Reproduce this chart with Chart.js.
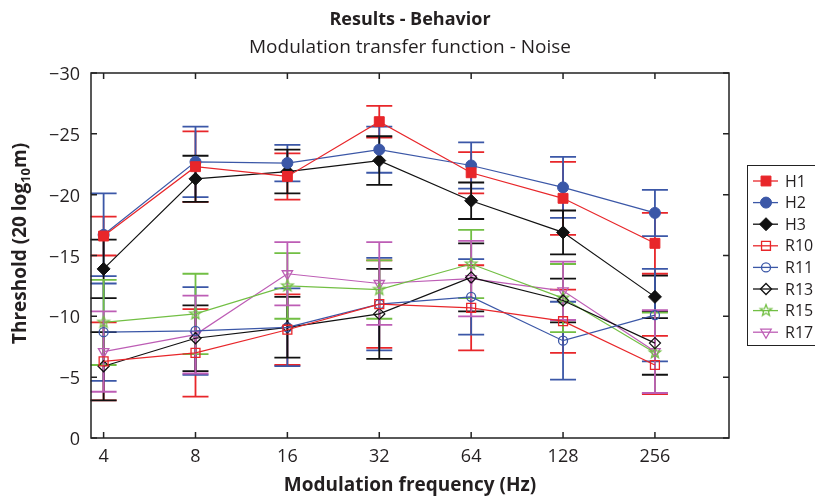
<!DOCTYPE html>
<html>
<head>
<meta charset="utf-8">
<script src="https://cdn.jsdelivr.net/npm/chart.js@4.4.0/dist/chart.umd.min.js"></script>
<style>
    html, body { margin: 0; padding: 0; background: #fff; }
    #wrap { width: 815px; height: 496px; position: relative; }
</style>
</head>
<body>
<div id="wrap"><canvas id="mtfChart"></canvas></div>
<script>
// Dados
const freqs = [4, 8, 16, 32, 64, 128, 256];
const yTicks = [-30, -25, -20, -15, -10, -5, 0];

const H1 = [-16.6, -22.3, -21.5, -26.0, -21.8, -19.7, -16.0];
const H1err = [1.6, 2.9, 1.9, 1.3, 1.7, 3.0, 2.5];
const H2 = [-16.7, -22.7, -22.6, -23.7, -22.4, -20.6, -18.5];
const H2err = [3.4, 2.9, 1.5, 1.9, 1.9, 2.5, 1.9];
const H3 = [-13.9, -21.3, -21.9, -22.8, -19.5, -16.9, -11.6];
const H3err = [2.4, 1.9, 1.8, 2.0, 1.5, 1.8, 1.75];
const R10 = [-6.3, -7.0, -8.9, -11.0, -10.7, -9.6, -6.0];
const R10err = [3.2, 3.6, 2.9, 3.6, 3.5, 2.6, 2.4];
const R11 = [-8.7, -8.8, -9.1, -11.0, -11.6, -8.0, -10.1];
const R11err = [4.0, 3.6, 3.2, 3.8, 3.1, 3.2, 3.8];
const R13 = [-5.9, -8.2, -9.1, -10.2, -13.2, -11.3, -7.8];
const R13err = [2.8, 2.7, 2.5, 3.7, 2.8, 1.8, 2.6];
const R15 = [-9.5, -10.2, -12.5, -12.2, -14.3, -11.5, -7.0];
const R15err = [3.5, 3.3, 2.7, 2.4, 2.8, 2.8, 3.3];
const R17 = [-7.1, -8.5, -13.5, -12.7, -13.1, -12.1, -7.1];
const R17err = [3.3, 3.2, 2.6, 3.4, 3.1, 2.4, 3.4];

const FONT = '"Open Sans", "Noto Sans", sans-serif';
const TEXT = '#231F20';
const RED = '#E8262A', BLUE = '#3B57A7', BLACK = '#111111', GREEN = '#72BF44', MAGENTA = '#BD5DB5';

// estrela de 5 pontas (contorno)
function makeStar(color, r) {
    const s = Math.ceil(r * 2 + 4);
    const c = document.createElement('canvas');
    c.width = s; c.height = s;
    const g = c.getContext('2d');
    g.strokeStyle = color;
    g.lineWidth = 1.3;
    g.beginPath();
    for (let i = 0; i < 10; i++) {
        const rad = i % 2 === 0 ? r : r * 0.42;
        const a = -Math.PI / 2 + i * Math.PI / 5;
        const px = s / 2 + rad * Math.cos(a), py = s / 2 + rad * Math.sin(a);
        if (i === 0) g.moveTo(px, py); else g.lineTo(px, py);
    }
    g.closePath();
    g.stroke();
    return c;
}

const series = [
    { label: 'H1', values: H1, errors: H1err, color: RED, style: 'rect', radius: 7, filled: true },
    { label: 'H2', values: H2, errors: H2err, color: BLUE, style: 'circle', radius: 5.5, filled: true },
    { label: 'H3', values: H3, errors: H3err, color: BLACK, style: 'rectRot', radius: 6.5, filled: true },
    { label: 'R10', values: R10, errors: R10err, color: RED, style: 'rect', radius: 6.3, filled: false },
    { label: 'R11', values: R11, errors: R11err, color: BLUE, style: 'circle', radius: 4.5, filled: false },
    { label: 'R13', values: R13, errors: R13err, color: BLACK, style: 'rectRot', radius: 5.5, filled: false },
    { label: 'R15', values: R15, errors: R15err, color: GREEN, style: makeStar(GREEN, 6), radius: 6, filled: false },
    { label: 'R17', values: R17, errors: R17err, color: MAGENTA, style: 'triangle', rotation: 180, radius: 6, filled: false }
];

const datasets = series.map(s => ({
    label: s.label,
    data: s.values.map((v, i) => ({ x: freqs[i], y: v })),
    errors: s.errors,
    borderColor: s.color,
    backgroundColor: s.filled ? s.color : 'transparent',
    borderWidth: 1.2,
    pointStyle: s.style,
    pointRotation: s.rotation || 0,
    pointRadius: s.radius,
    pointHoverRadius: s.radius,
    pointBorderWidth: s.filled ? 1 : 1.3,
    pointBackgroundColor: s.filled ? s.color : 'transparent',
    pointBorderColor: s.color,
    tension: 0
}));

// Barras de erro
const errorBars = {
    id: 'errorBars',
    beforeDatasetsDraw(chart) {
        const { ctx, scales: { x, y } } = chart;
        ctx.save();
        chart.data.datasets.forEach(ds => {
            ctx.strokeStyle = ds.borderColor;
            ctx.lineWidth = 1.8;
            ds.data.forEach((p, j) => {
                const e = ds.errors[j];
                const px = x.getPixelForValue(p.x);
                const top = y.getPixelForValue(p.y - e);
                const bot = y.getPixelForValue(p.y + e);
                ctx.beginPath();
                ctx.moveTo(px, top); ctx.lineTo(px, bot);
                ctx.moveTo(px - 13, top); ctx.lineTo(px + 13, top);
                ctx.moveTo(px - 13, bot); ctx.lineTo(px + 13, bot);
                ctx.stroke();
            });
        });
        ctx.restore();
    }
};

// Moldura com ticks para dentro, rótulos e títulos
const frame = {
    id: 'frame',
    afterDatasetsDraw(chart) {
        const { ctx, chartArea: a, scales: { x, y } } = chart;
        ctx.save();
        ctx.strokeStyle = '#222';
        ctx.lineWidth = 1.5;
        ctx.strokeRect(a.left, a.top, a.right - a.left, a.bottom - a.top);
        ctx.beginPath();
        freqs.forEach(f => {
            const px = x.getPixelForValue(f);
            ctx.moveTo(px, a.bottom); ctx.lineTo(px, a.bottom - 6);
            ctx.moveTo(px, a.top); ctx.lineTo(px, a.top + 6);
        });
        yTicks.forEach(t => {
            const py = y.getPixelForValue(t);
            ctx.moveTo(a.left, py); ctx.lineTo(a.left + 6, py);
            ctx.moveTo(a.right, py); ctx.lineTo(a.right - 6, py);
        });
        ctx.stroke();

        // rótulos dos ticks
        ctx.fillStyle = TEXT;
        ctx.font = '18px ' + FONT;
        ctx.textAlign = 'center';
        ctx.textBaseline = 'alphabetic';
        freqs.forEach(f => ctx.fillText(String(f), x.getPixelForValue(f), 462));
        ctx.textAlign = 'right';
        ctx.textBaseline = 'middle';
        yTicks.forEach(t => {
            const lbl = t < 0 ? '\u2212' + Math.abs(t) : String(t);
            ctx.fillText(lbl, a.left - 11, y.getPixelForValue(t) + 2);
        });

        const cx = (a.left + a.right) / 2;
        ctx.textAlign = 'center';
        ctx.textBaseline = 'alphabetic';
        ctx.font = 'bold 18px ' + FONT;
        ctx.fillText('Results - Behavior', cx, 25);
        ctx.font = '19px ' + FONT;
        ctx.fillText('Modulation transfer function - Noise', cx, 53);
        ctx.font = 'bold 19px ' + FONT;
        ctx.fillText('Modulation frequency (Hz)', cx, 491);

        // título do eixo y com subscrito
        const p1 = 'Threshold (20 log', p2 = '10', p3 = 'm)';
        const big = 'bold 19px ' + FONT, small = 'bold 13px ' + FONT;
        ctx.font = big; const w1 = ctx.measureText(p1).width, w3 = ctx.measureText(p3).width;
        ctx.font = small; const w2 = ctx.measureText(p2).width;
        const total = w1 + w2 + w3;
        ctx.translate(26, (a.top + a.bottom) / 2 - 12);
        ctx.rotate(-Math.PI / 2);
        ctx.textAlign = 'left';
        let sx = -total / 2;
        ctx.font = big; ctx.fillText(p1, sx, 0); sx += w1;
        ctx.font = small; ctx.fillText(p2, sx, 4); sx += w2;
        ctx.font = big; ctx.fillText(p3, sx, 0);
        ctx.restore();
    }
};

// Legenda com linha + marcador
const legendBox = {
    id: 'legendBox',
    afterDraw(chart) {
        const { ctx } = chart;
        const x0 = 747.5, y0 = 165.5;
        ctx.save();
        ctx.strokeStyle = '#222';
        ctx.lineWidth = 1;
        ctx.strokeRect(x0, y0, 80, 180);
        ctx.font = '16px ' + FONT;
        ctx.textBaseline = 'middle';
        ctx.textAlign = 'left';
        chart.data.datasets.forEach((ds, i) => {
            const ly = 181 + i * 21.6;
            ctx.strokeStyle = ds.borderColor;
            ctx.lineWidth = 1.3;
            ctx.beginPath();
            ctx.moveTo(753, ly); ctx.lineTo(778, ly);
            ctx.stroke();
            ctx.fillStyle = ds.pointBackgroundColor;
            ctx.lineWidth = ds.pointBorderWidth;
            Chart.helpers.drawPoint(ctx, {
                pointStyle: ds.pointStyle,
                radius: ds.pointRadius,
                rotation: ds.pointRotation,
                borderWidth: ds.pointBorderWidth
            }, 766, ly);
            ctx.fillStyle = TEXT;
            ctx.fillText(ds.label, 785, ly + 1);
        });
        ctx.restore();
    }
};

new Chart(document.getElementById('mtfChart'), {
    type: 'line',
    data: { datasets },
    plugins: [errorBars, frame, legendBox],
    options: {
        responsive: true,
        maintainAspectRatio: false,
        animation: false,
        layout: { padding: { left: 0, right: 86, top: 73, bottom: 0 } },
        plugins: {
            legend: { display: false },
            title: { display: false },
            tooltip: { enabled: false }
        },
        scales: {
            x: {
                type: 'logarithmic',
                min: 3.637,
                max: 447.6,
                grid: { display: false, drawTicks: false },
                border: { display: false },
                ticks: { display: false },
                afterFit: s => { s.height = 58; }
            },
            y: {
                type: 'linear',
                min: -30,
                max: 0,
                reverse: true,
                grid: { display: false, drawTicks: false },
                border: { display: false },
                ticks: { display: false },
                afterFit: s => { s.width = 91; }
            }
        }
    }
});
</script>
</body>
</html>
